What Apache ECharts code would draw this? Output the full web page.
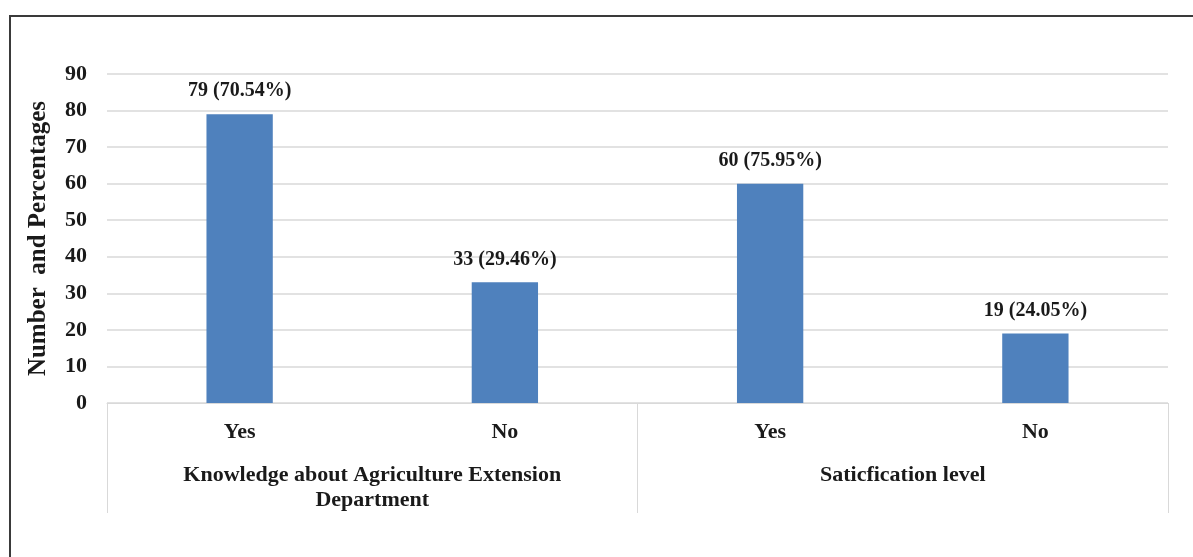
<!DOCTYPE html>
<html>
<head>
<meta charset="utf-8">
<script src="https://cdn.jsdelivr.net/npm/echarts@6/dist/echarts.min.js"></script>
<style>
  html, body { margin: 0; padding: 0; background: #ffffff; }
  #frame {
    position: absolute; left: 9px; top: 15px; width: 1200px; height: 560px;
    border-left: 2px solid #3a3a3a; border-top: 2px solid #3a3a3a;
    box-sizing: border-box;
  }
  #chart { position: absolute; left: 0; top: 0; width: 1193px; height: 557px; }
</style>
</head>
<body>
<div id="frame"></div>
<div id="chart"></div>
<script>
// Survey responses: answer categories and their counts / shares
const answers = ['Yes', 'No', 'Yes', 'No'];
const groups = ['Knowledge about Agriculture Extension\nDepartment', 'Saticfication level'];
const counts = [79, 33, 60, 19];
const percents = ['70.54%', '29.46%', '75.95%', '24.05%'];
const yTicks = { min: 0, max: 90, interval: 10 };
const yTitle = 'Number  and Percentages';

const FONT = '"Liberation Serif", "Times New Roman", serif';
const TEXT = '#1a1a1a';
const GRID_LINE = '#d9d9d9';

const chart = echarts.init(document.getElementById('chart'), null, { renderer: 'canvas' });

chart.setOption({
  animation: false,
  backgroundColor: 'transparent',
  grid: { left: 107, right: 25, top: 74, bottom: 154, containLabel: false },
  xAxis: [
    {
      type: 'category',
      data: answers,
      position: 'bottom',
      axisLine: { show: true, lineStyle: { color: GRID_LINE, width: 1 } },
      axisTick: { show: false },
      axisLabel: {
        margin: 18, fontFamily: FONT, fontWeight: 'bold', fontSize: 22, color: TEXT
      }
    },
    {
      type: 'category',
      data: groups,
      position: 'bottom',
      boundaryGap: true,
      axisLine: { show: false },
      axisTick: { show: true, alignWithLabel: false, length: 110, inside: false,
                  lineStyle: { color: GRID_LINE, width: 1 } },
      axisLabel: {
        margin: 60, fontFamily: FONT, fontWeight: 'bold', fontSize: 22, color: TEXT,
        lineHeight: 25, interval: 0
      }
    }
  ],
  yAxis: {
    type: 'value',
    min: yTicks.min, max: yTicks.max, interval: yTicks.interval,
    name: yTitle,
    nameLocation: 'middle',
    nameGap: 56,
    nameRotate: 90,
    nameTextStyle: { fontFamily: FONT, fontWeight: 'bold', fontSize: 25, color: TEXT },
    axisLine: { show: false },
    axisTick: { show: false },
    axisLabel: { margin: 20, fontFamily: FONT, fontWeight: 'bold', fontSize: 22, color: TEXT },
    splitLine: { show: true, lineStyle: { color: GRID_LINE, width: 1.5 } }
  },
  series: [{
    type: 'bar',
    xAxisIndex: 0,
    data: counts,
    barWidth: '25%',
    itemStyle: { color: '#4f81bd' },
    label: {
      show: true,
      position: 'top',
      distance: 13,
      fontFamily: FONT, fontWeight: 'bold', fontSize: 20, color: TEXT,
      formatter: p => `${p.value} (${percents[p.dataIndex]})`
    }
  }]
});
</script>
</body>
</html>
